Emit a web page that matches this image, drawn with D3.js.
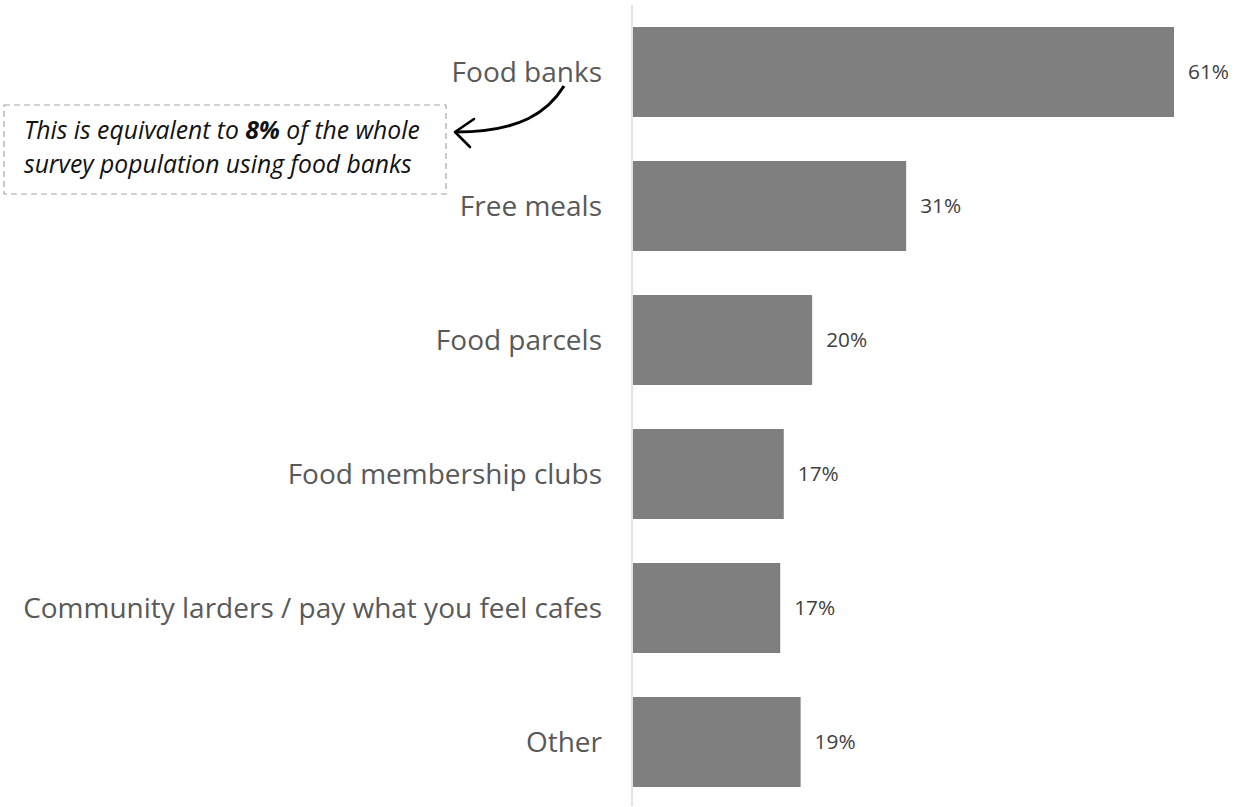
<!DOCTYPE html>
<html><head><meta charset="utf-8">
<script src="https://cdn.jsdelivr.net/npm/d3@7"></script>
<style>html,body{margin:0;padding:0;background:#fff;}svg{display:block;}</style>
</head><body>
<script>
const categories = ["Food banks","Free meals","Food parcels","Food membership clubs","Community larders / pay what you feel cafes","Other"];
const values = [61.0, 30.8, 20.2, 17.0, 16.6, 18.9];
const valueLabels = ["61%","31%","20%","17%","17%","19%"];
const annotationLines = [
  [{t:"This is equivalent to ",b:false},{t:"8%",b:true},{t:" of the whole",b:false}],
  [{t:"survey population using food banks",b:false}]
];

const W = 1243, H = 807;
const FONT = "'Open Sans', 'Noto Sans', sans-serif";
const svg = d3.select("body").append("svg").attr("width", W).attr("height", H);
const x0 = 633;
const x = d3.scaleLinear().domain([0, 61]).range([x0, 1174]);
const y = d3.scaleBand().domain(categories).range([5, 809]).paddingInner(44/134).paddingOuter(22/134);

function fitSize(sel, target, base) {
  const w = sel.node().getComputedTextLength();
  return base * target / w;
}

// axis line
svg.append("line").attr("x1", 632).attr("x2", 632).attr("y1", 5).attr("y2", 806)
  .attr("stroke", "#d9d9d9").attr("stroke-width", 1.5);

svg.selectAll("rect.bar").data(categories).join("rect").attr("class","bar")
  .attr("x", x(0)).attr("y", d => y(d)).attr("height", y.bandwidth())
  .attr("width", (d,i) => x(values[i]) - x(0)).attr("fill", "#7f7f7f");

const vals = svg.selectAll("text.val").data(categories).join("text").attr("class","val")
  .attr("x", (d,i) => x(values[i]) + 14).attr("y", d => y(d) + y.bandwidth()/2)
  .attr("dy", "0.35em").attr("font-family", FONT)
  .attr("font-size", 16).attr("fill", "#404040").text((d,i) => valueLabels[i]);
const vs = fitSize(vals.filter((d,i)=>i===0), 41, 16);
vals.attr("font-size", vs);

const cats = svg.selectAll("text.cat").data(categories).join("text").attr("class","cat")
  .attr("x", 602).attr("y", d => y(d) + y.bandwidth()/2)
  .attr("dy", "0.35em").attr("text-anchor", "end")
  .attr("font-family", FONT)
  .attr("font-size", 24).attr("fill", "#595959").text(d => d);
const cs = fitSize(cats.filter((d,i)=>i===4), 579, 24);
cats.attr("font-size", cs);

// annotation box
svg.append("rect").attr("x", 4).attr("y", 105).attr("width", 442).attr("height", 89)
  .attr("fill", "none").attr("stroke", "#a6a6a6").attr("stroke-width", 1.2)
  .attr("stroke-dasharray", "6,4");
const annLines = annotationLines.map((line, li) => {
  const t = svg.append("text").attr("font-family", FONT)
    .attr("font-size", 19).attr("font-style", "italic").attr("fill", "#111")
    .attr("x", 24).attr("y", 139 + li * 34);
  line.forEach(seg => t.append("tspan").text(seg.t).attr("font-weight", seg.b ? "bold" : "normal"));
  return t;
});
const as = fitSize(annLines[0], 396, 19);
annLines.forEach(t => t.attr("font-size", as));

// arrow
svg.append("path").attr("d", "M564,86 C548,112 520,132 456,132")
  .attr("fill", "none").attr("stroke", "#000").attr("stroke-width", 3);
svg.append("path").attr("d", "M474,119 L455,132 L470,147")
  .attr("fill", "none").attr("stroke", "#000").attr("stroke-width", 2.6)
  .attr("stroke-linejoin", "round").attr("stroke-linecap", "round");
</script>
</body></html>
